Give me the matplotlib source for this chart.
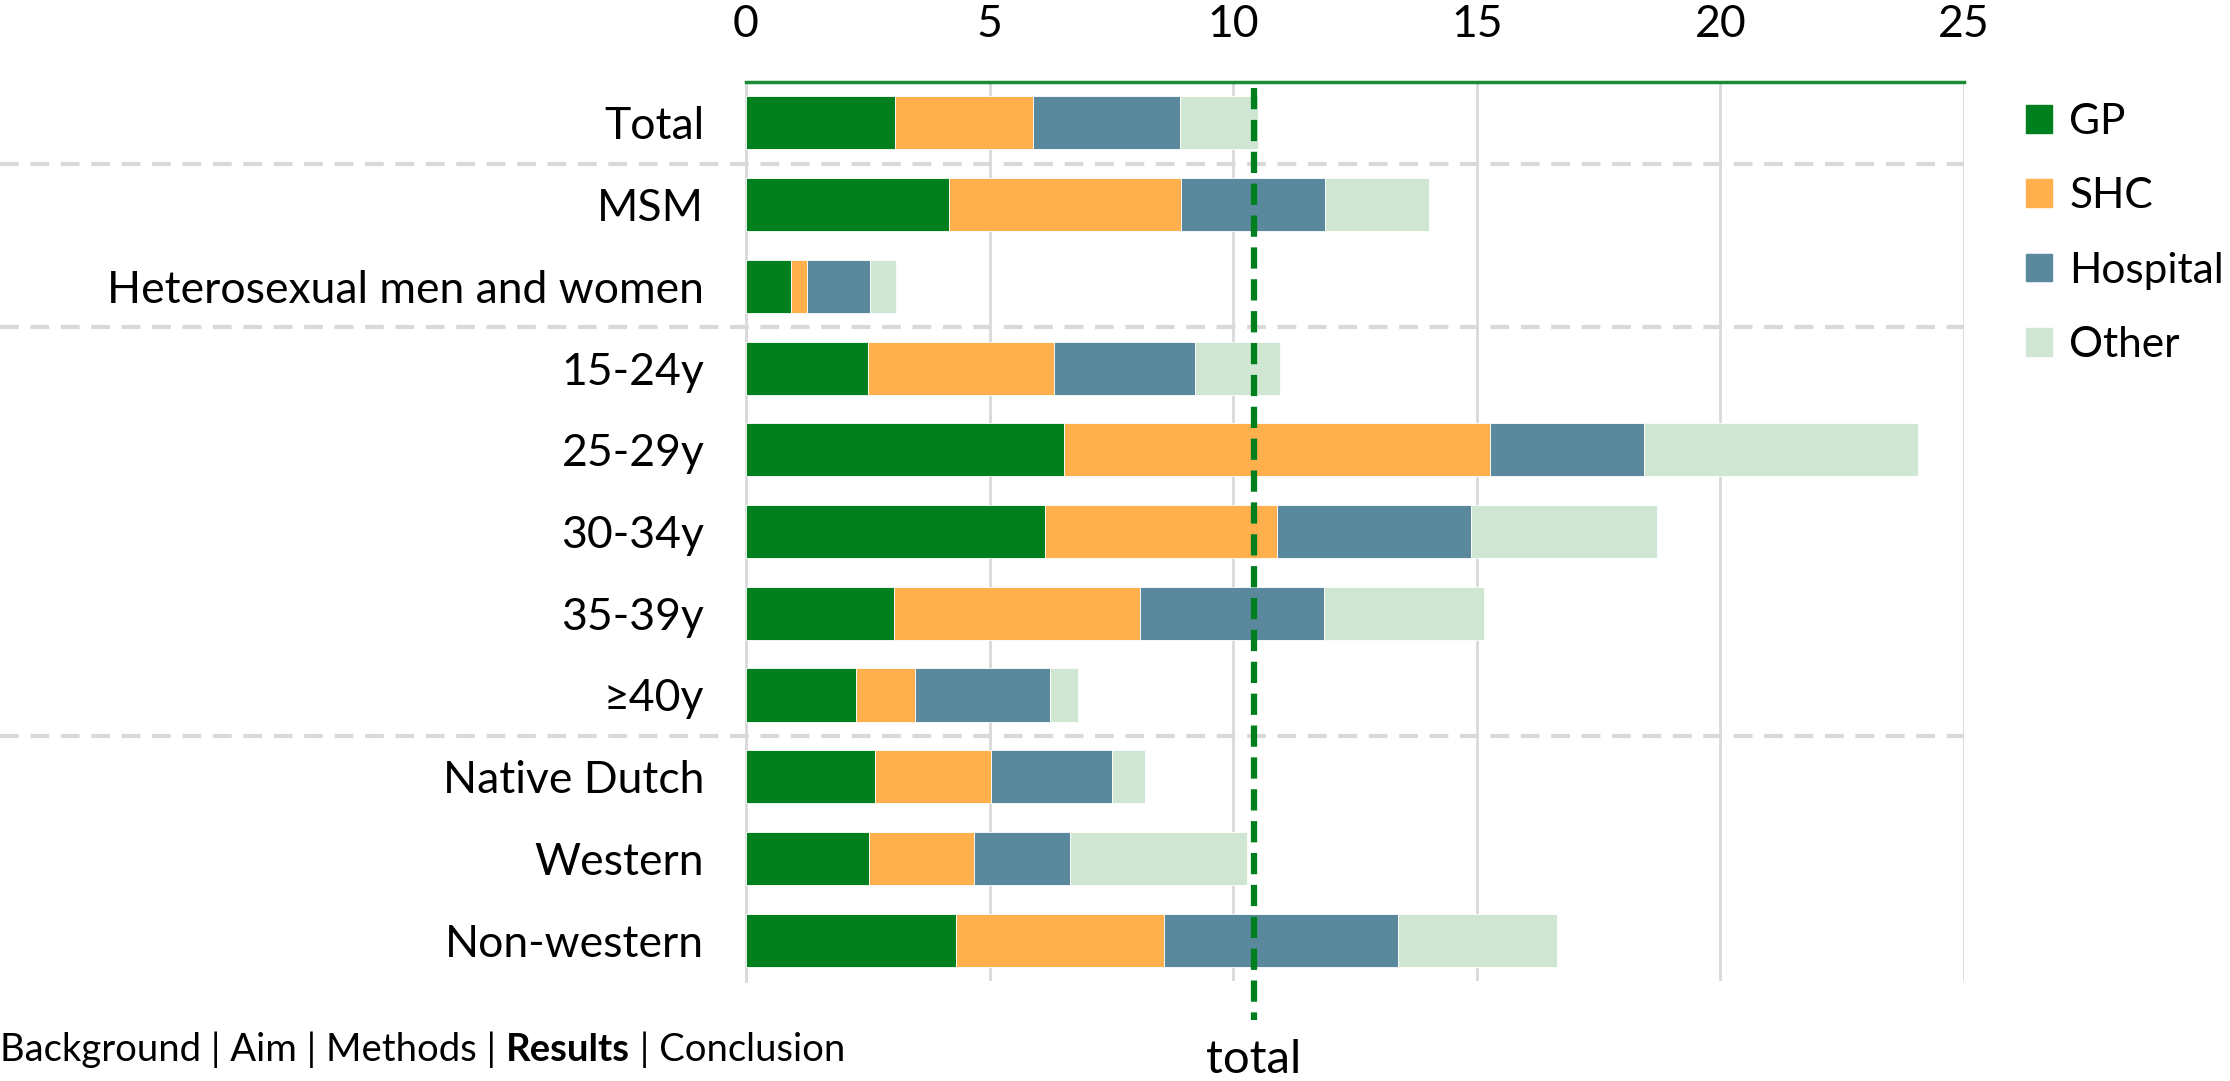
import matplotlib
matplotlib.use("Agg")
import matplotlib.pyplot as plt
import matplotlib.transforms as mtrans
from matplotlib.patches import Patch
import numpy as np

plt.rcParams['font.family'] = ['Lato', 'DejaVu Sans']

# categories top -> bottom
categorias = ["Total", "MSM", "Heterosexual men and women", "15-24y", "25-29y",
              "30-34y", "35-39y", "\u226540y", "Native Dutch", "Western", "Non-western"]
gp       = [3.05, 4.17, 0.92, 2.50, 6.52, 6.14, 3.03, 2.26, 2.64, 2.52, 4.32]
shc      = [2.84, 4.75, 0.34, 3.83, 8.76, 4.75, 5.05, 1.21, 2.40, 2.16, 4.27]
hospital = [3.01, 2.96, 1.28, 2.89, 3.15, 4.00, 3.78, 2.78, 2.47, 1.97, 4.80]
otros    = [1.60, 2.13, 0.54, 1.74, 5.62, 3.80, 3.29, 0.56, 0.68, 3.63, 3.25]
series = ["GP", "SHC", "Hospital", "Other"]
colores = ["#007f1f", "#ffb04d", "#5a889c", "#cfe6d2"]
total_ref = 10.43
separadores = [0.5, 2.5, 7.5]
xticks = [0, 5, 10, 15, 20, 25]

fig = plt.figure(figsize=(22.3, 10.81), dpi=100)
ax = fig.add_axes([0.3345, 0.0925, 0.8807 - 0.3345, 0.9241 - 0.0925])

y = np.arange(len(categorias))
izq = np.zeros(len(categorias))
for datos, col, nom in zip([gp, shc, hospital, otros], colores, series):
    ax.barh(y, datos, left=izq, height=0.65, color=col, label=nom,
            edgecolor="white", linewidth=0.6, zorder=3)
    izq = izq + np.array(datos)

ax.set_ylim(len(categorias) - 0.5, -0.5)
ax.set_xlim(0, 25)
ax.set_yticks(y)
ax.set_yticklabels(categorias, fontsize=32)
ax.tick_params(axis="y", length=0, pad=30)
ax.xaxis.tick_top()
ax.set_xticks(xticks)
ax.set_xticklabels([str(t) for t in xticks], fontsize=32)
ax.tick_params(axis="x", length=0, pad=27)
ax.grid(axis="x", color="#d9d9d9", linewidth=2, zorder=0)
for s in ["right", "bottom"]:
    ax.spines[s].set_visible(False)
ax.spines["left"].set_color("#d9d9d9")
ax.spines["left"].set_linewidth(2)
ax.spines["top"].set_color("#1a8a35")
ax.spines["top"].set_linewidth(2.5)

# separadores grises
tr = mtrans.blended_transform_factory(fig.transFigure, ax.transData)
for s in separadores:
    ax.plot([0, 0.8807], [s, s], transform=tr, color="#d9d9d9", linewidth=3,
            dashes=(4.5, 2.8), clip_on=False, zorder=1)

# linea total
ax.plot([total_ref, total_ref], [-0.43, 10.98], color="#007f1f", linewidth=4.5,
        dashes=(3.4, 1.7), clip_on=False, zorder=5)
ax.text(total_ref, 11.47, "total", fontsize=34, ha="center", va="center")

handles = [Patch(color=c) for c in colores]
fig.legend(handles, series, loc="upper left", bbox_to_anchor=(0.9085, 0.905),
           frameon=False, fontsize=30.5, handlelength=0.62, handleheight=0.62,
           handletextpad=0.4, labelspacing=0.86, borderaxespad=0, borderpad=0)

# barra de navegacion abajo
t = fig.text(0.0, 1 - 1050 / 1081, "Background | Aim | Methods | ", fontsize=27.5,
             ha="left", va="center")
t2 = ax.annotate("Results", xy=(1, 0.5), xycoords=t, va="center", ha="left",
                 fontsize=27.5, fontweight="bold")
ax.annotate(" | Conclusion", xy=(1, 0.5), xycoords=t2, va="center", ha="left",
            fontsize=27.5)

fig.savefig("out.png", dpi=100)
